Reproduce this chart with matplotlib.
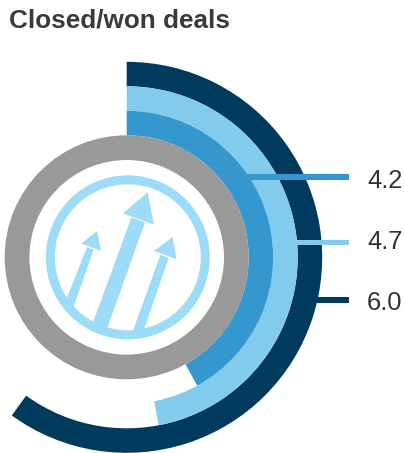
import matplotlib
matplotlib.use('Agg')
import matplotlib.pyplot as plt
from matplotlib.patches import Wedge, Polygon, Circle
import numpy as np

plt.rcParams['font.family'] = ['Liberation Sans', 'DejaVu Sans']

# outermost ring first, so the list order follows the radii below
values = [6.0, 4.7, 4.2]
labels = ['6.0', '4.7', '4.2']
full_scale = 10.0
colors = ['#003A5D', '#82CBEC', '#3497CE']
title = 'Closed/won deals'

W, H = 404, 453
cx, cy = 126.7, 257.3
icon_cx = 127.8
outer_radii = [195.5, 171, 146.5]
ring_w = 24.5
leader_y = [300, 242.3, 177]
label_y = [303, 242, 180.5]
leader_x0 = [317, 296.5, 247]
leader_h = [5.5, 5.5, 5.5]

fig = plt.figure(figsize=(W / 100, H / 100), dpi=100)
ax = fig.add_axes([0, 0, 1, 1])
ax.set_xlim(0, W)
ax.set_ylim(H, 0)  # pixel coordinates, y pointing down
ax.axis('off')

# y is flipped, so increasing angle runs clockwise from 12 o'clock (-90)
for v, c, r in zip(values, colors, outer_radii):
    sweep = v / full_scale * 360
    ax.add_patch(Wedge((cx, cy), r, -90, -90 + sweep, width=ring_w, fc=c, ec='none', zorder=2))

# leader bars and value labels
for v, lab, c, y, ly, x0, h in zip(values, labels, colors, leader_y, label_y, leader_x0, leader_h):
    ax.fill_between([x0, 349], y - h / 2, y + h / 2, color=c, lw=0, zorder=3)
    ax.text(367, ly, lab, fontsize=18.4, color='#333333', va='center', ha='left')

# grey ring in the middle
ax.add_patch(Wedge((cx, cy), 122, 0, 360, width=24.7, fc='#999999', ec='none', zorder=4))

# arrows icon
icon = '#9CDCF9'
ax.add_patch(Wedge((icon_cx, cy), 82, 0, 360, width=9, fc=icon, ec='none', zorder=5))


def z(pts):
    # icon outlines were laid out on a 3x grid with its origin at (30, 160)
    return [(30 + px / 3, 160 + py / 3) for px, py in pts]


clip = Circle((icon_cx, cy), 78, transform=ax.transData)
shapes = [
    [(353, 97), (279, 160), (372, 194)],
    [(304, 173), (345, 187), (230, 510), (188, 490)],
    [(201, 213), (154, 251), (213, 273)],
    [(171, 262), (191, 269), (130, 442), (108, 420)],
    [(428, 231), (372, 273), (439, 297)],
    [(391, 285), (416, 294), (340, 515), (308, 515)],
]
for s in shapes:
    p = Polygon(z(s), closed=True, fc=icon, ec='none', zorder=5)
    ax.add_patch(p)
    p.set_clip_path(clip)

ax.text(9, 21, title, fontsize=18.8, fontweight='bold', color='#3A3A3A', va='center', ha='left')

fig.savefig('out.png', dpi=100, facecolor='white')
